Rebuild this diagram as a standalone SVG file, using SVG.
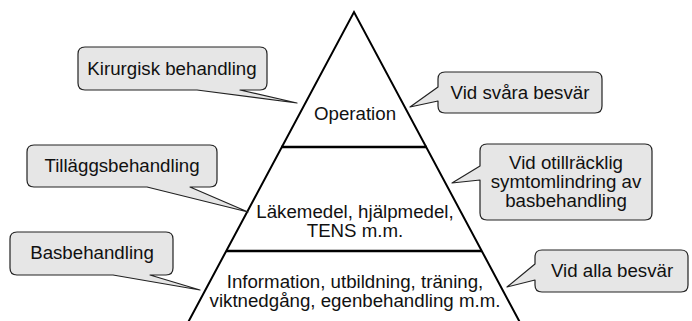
<svg xmlns="http://www.w3.org/2000/svg" width="692" height="321" viewBox="0 0 692 321">
<style>
.tri{fill:none;stroke:#000;stroke-width:2;stroke-linejoin:miter}
.lvl{stroke:#000;stroke-width:2.5}
.call{fill:#e6e6e6;stroke:#222;stroke-width:1.2;stroke-linejoin:round}
text{font-family:"Liberation Sans",Arial,sans-serif;font-size:18.7px;fill:#111;text-anchor:middle}
</style>
<rect width="692" height="321" fill="#fff"/>
<g id="pyramid">
<polyline class="tri" points="184,330 354,12 524,330"/>
<line class="lvl" x1="281" y1="147" x2="427" y2="147"/>
<line class="lvl" x1="226" y1="251" x2="482" y2="251"/>
</g>
<g id="level-top"><text x="355" y="120">Operation</text></g>
<g id="level-mid"><text x="355" y="218">Läkemedel, hjälpmedel,</text><text x="355" y="237">TENS m.m.</text></g>
<g id="level-base"><text x="355" y="288">Information, utbildning, träning,</text><text x="355" y="307">viktnedgång, egenbehandling m.m.</text></g>
<g id="connectors">
<g id="c-kirurgisk"><path class="call" d="M85,47 H260 Q267,47 267,54 V83 Q267,90 260,90 H240 L297,103 L197,90 H85 Q78,90 78,83 V54 Q78,47 85,47 Z"/><text x="172" y="75">Kirurgisk behandling</text></g>
<g id="c-svara"><path class="call" d="M445,72 H595 Q602,72 602,79 V106 Q602,113 595,113 H445 Q438,113 438,106 V101 L410,107 L438,87 V79 Q438,72 445,72 Z"/><text x="520" y="99">Vid svåra besvär</text></g>
<g id="c-tillagg"><path class="call" d="M34,145 H210 Q217,145 217,152 V180 Q217,187 210,187 H190 L248,212 L147,187 H34 Q27,187 27,180 V152 Q27,145 34,145 Z"/><text x="122" y="172">Tilläggsbehandling</text></g>
<g id="c-otillracklig"><path class="call" d="M487,144 H645 Q652,144 652,151 V213 Q652,220 645,220 H487 Q480,220 480,213 V180 L452,183 L480,166 V151 Q480,144 487,144 Z"/><text x="566" y="169">Vid otillräcklig</text><text x="566" y="188">symtomlindring av</text><text x="566" y="207">basbehandling</text></g>
<g id="c-bas"><path class="call" d="M17,232 H166 Q173,232 173,239 V268 Q173,275 166,275 H150 L200,290 L113,275 H17 Q10,275 10,268 V239 Q10,232 17,232 Z"/><text x="92" y="259">Basbehandling</text></g>
<g id="c-alla"><path class="call" d="M542,250 H681 Q688,250 688,257 V285 Q688,292 681,292 H542 Q535,292 535,285 V280 L507,287 L535,264 V257 Q535,250 542,250 Z"/><text x="612" y="277">Vid alla besvär</text></g>
</g>
</svg>
